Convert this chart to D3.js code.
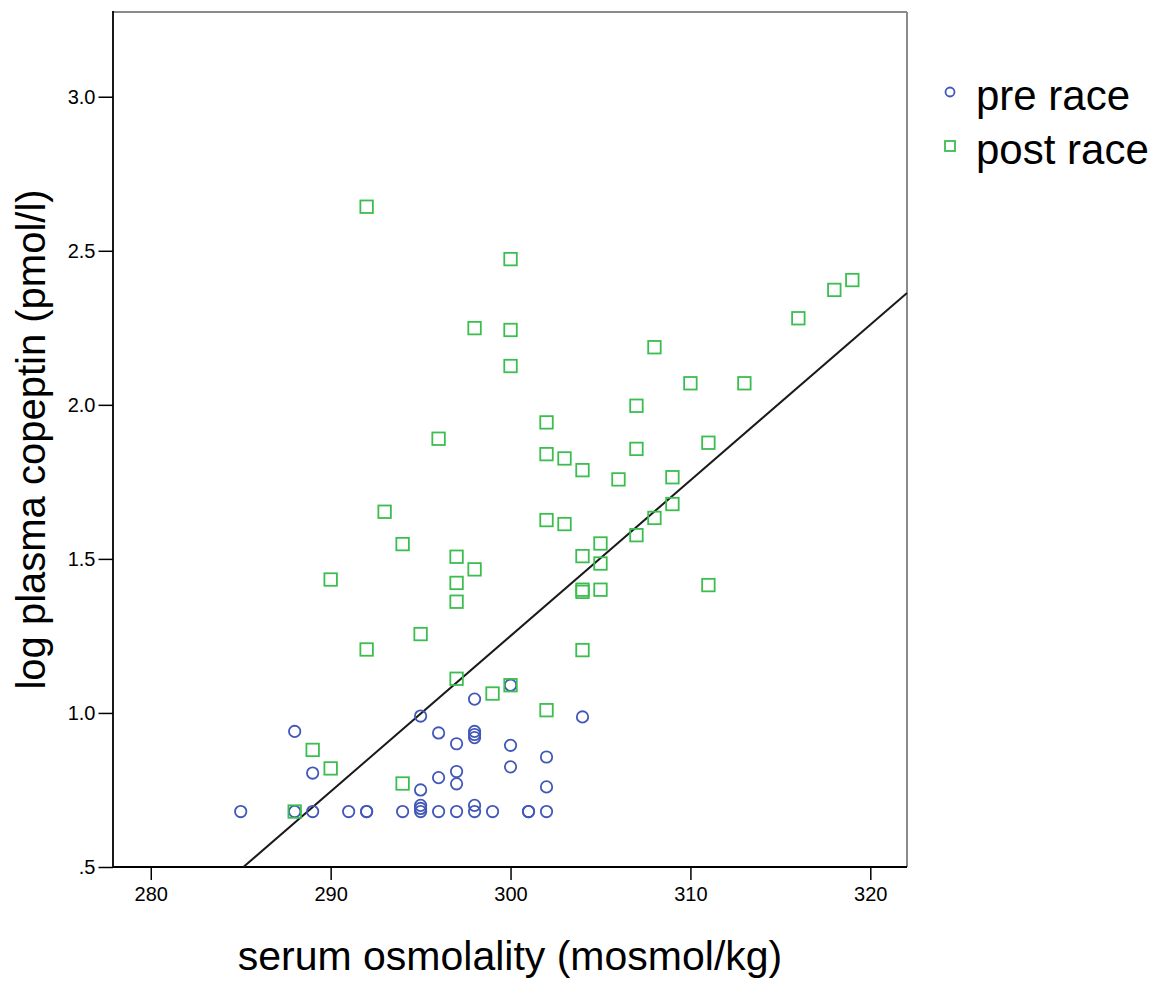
<!DOCTYPE html>
<meta charset="utf-8">
<style>
  body { margin: 0; background: #fff; }
  svg { font-family: "Liberation Sans", Arial, sans-serif; }
  .axis path { display: none; }
  .axis line { stroke: #000; stroke-width: 1.5px; }
  .axis text { font-size: 20px; fill: #000; }
  .pre { fill: none; stroke: #4258b8; stroke-width: 1.8px; }
  .post { fill: none; stroke: #3cbd50; stroke-width: 1.8px; }
</style>
<body></body>
<script src="https://d3js.org/d3.v7.min.js"></script>
<script>
// pre race points (serum osmolality, log copeptin)
var preX = [285, 288, 288, 289, 289, 291, 292, 292, 294,
            295, 295, 295, 295, 295, 296, 296, 296,
            297, 297, 297, 297, 298, 298, 298, 298, 298, 298,
            299, 300, 300, 300, 301, 301, 302, 302, 302, 304];
var preY = [0.68, 0.94, 0.68, 0.805, 0.68, 0.68, 0.68, 0.68, 0.68,
            0.68, 0.69, 0.70, 0.75, 0.99, 0.68, 0.79, 0.935,
            0.68, 0.77, 0.81, 0.90, 0.68, 0.70, 0.92, 0.93, 0.94, 1.045,
            0.68, 0.825, 0.895, 1.09, 0.68, 0.68, 0.68, 0.76, 0.857, 0.987];

// post race points
var postX = [288, 289, 290, 290, 292, 292, 293, 294, 294, 295, 296,
             297, 297, 297, 297, 298, 298, 299, 300, 300, 300, 300,
             302, 302, 302, 302, 303, 303, 304, 304, 304, 304, 304,
             305, 305, 305, 306, 307, 307, 307, 308, 308, 309, 309,
             310, 311, 311, 313, 316, 318, 319];
var postY = [0.68, 0.88, 0.82, 1.433, 1.206, 2.643, 1.653, 0.771, 1.548, 1.256, 1.890,
             1.111, 1.361, 1.422, 1.507, 1.466, 2.249, 1.063, 1.09, 2.126, 2.243, 2.473,
             1.009, 1.626, 1.840, 1.943, 1.613, 1.826, 1.204, 1.393, 1.40, 1.509, 1.788,
             1.40, 1.485, 1.550, 1.758, 1.577, 1.857, 1.997, 1.633, 2.187, 1.678, 1.765,
             2.07, 1.415, 1.877, 2.07, 2.281, 2.373, 2.405];

// fit line ends
var fitX = [285.15, 322.04];
var fitY = [0.5, 2.363];

var xTicks = [280, 290, 300, 310, 320];
var yTicks = [0.5, 1.0, 1.5, 2.0, 2.5, 3.0];
var yTickLabels = [".5", "1.0", "1.5", "2.0", "2.5", "3.0"];
var seriesNames = ["pre race", "post race"];

var W = 1164, H = 981;
var pl = 113, pr = 907, pt = 12, pb = 867; // plot box (window.top is reserved)

var svg = d3.select("body").append("svg")
    .attr("width", W)
    .attr("height", H);

var x = d3.scaleLinear().domain([277.9, 322.04]).range([pl, pr]);
var y = d3.scaleLinear().domain([0.5, 3.275]).range([pb, pt]);

// frame: top/right grey
svg.append("line").attr("x1", pl).attr("x2", pr).attr("y1", pt).attr("y2", pt)
    .attr("stroke", "#8a8a8a").attr("stroke-width", 2);
svg.append("line").attr("x1", pr).attr("x2", pr).attr("y1", pt).attr("y2", pb)
    .attr("stroke", "#8a8a8a").attr("stroke-width", 2);

svg.append("g")
    .attr("class", "axis")
    .attr("transform", "translate(0," + pb + ")")
    .call(d3.axisBottom(x).tickValues(xTicks).tickSize(13).tickPadding(7).tickFormat(d3.format("d")));

svg.append("g")
    .attr("class", "axis")
    .attr("transform", "translate(" + pl + ",0)")
    .call(d3.axisLeft(y).tickValues(yTicks).tickSize(14.5).tickPadding(3)
      .tickFormat(function(d, i) { return yTickLabels[i]; }));

// left / bottom black lines
svg.append("line").attr("x1", pl).attr("x2", pl).attr("y1", pt - 1).attr("y2", pb)
    .attr("stroke", "#000").attr("stroke-width", 1.8);
svg.append("line").attr("x1", pl).attr("x2", pr).attr("y1", pb).attr("y2", pb)
    .attr("stroke", "#000").attr("stroke-width", 1.8);

// fit line
svg.append("line")
    .attr("x1", x(fitX[0])).attr("y1", y(fitY[0]))
    .attr("x2", x(fitX[1])).attr("y2", y(fitY[1]))
    .attr("stroke", "#1a1a1a").attr("stroke-width", 2);

svg.selectAll("circle.pre")
    .data(preX)
    .enter().append("circle")
    .attr("class", "pre")
    .attr("cx", function(d) { return x(d); })
    .attr("cy", function(d, i) { return y(preY[i]); })
    .attr("r", 5.7);

var s = 12.5;
svg.selectAll("rect.post")
    .data(postX)
    .enter().append("rect")
    .attr("class", "post")
    .attr("x", function(d) { return x(d) - s / 2; })
    .attr("y", function(d, i) { return y(postY[i]) - s / 2; })
    .attr("width", s)
    .attr("height", s);

// axis titles
svg.append("text")
    .attr("x", (pl + pr) / 2)
    .attr("y", 970)
    .attr("text-anchor", "middle")
    .attr("font-size", 41)
    .text("serum osmolality (mosmol/kg)");

svg.append("text")
    .attr("transform", "translate(45," + ((pt + pb) / 2) + ") rotate(-90)")
    .attr("text-anchor", "middle")
    .attr("font-size", 40)
    .text("log plasma copeptin (pmol/l)");

// legend
var legend = svg.append("g");
legend.append("circle").attr("class", "pre")
    .attr("cx", 950).attr("cy", 92).attr("r", 4.5);
legend.append("rect").attr("class", "post")
    .attr("x", 945).attr("y", 141).attr("width", 10).attr("height", 10);
legend.selectAll("text.leg")
    .data(seriesNames)
    .enter().append("text")
    .attr("class", "leg")
    .attr("x", 976)
    .attr("y", function(d, i) { return 110 + i * 54; })
    .attr("font-size", 42)
    .text(function(d) { return d; });
</script>
